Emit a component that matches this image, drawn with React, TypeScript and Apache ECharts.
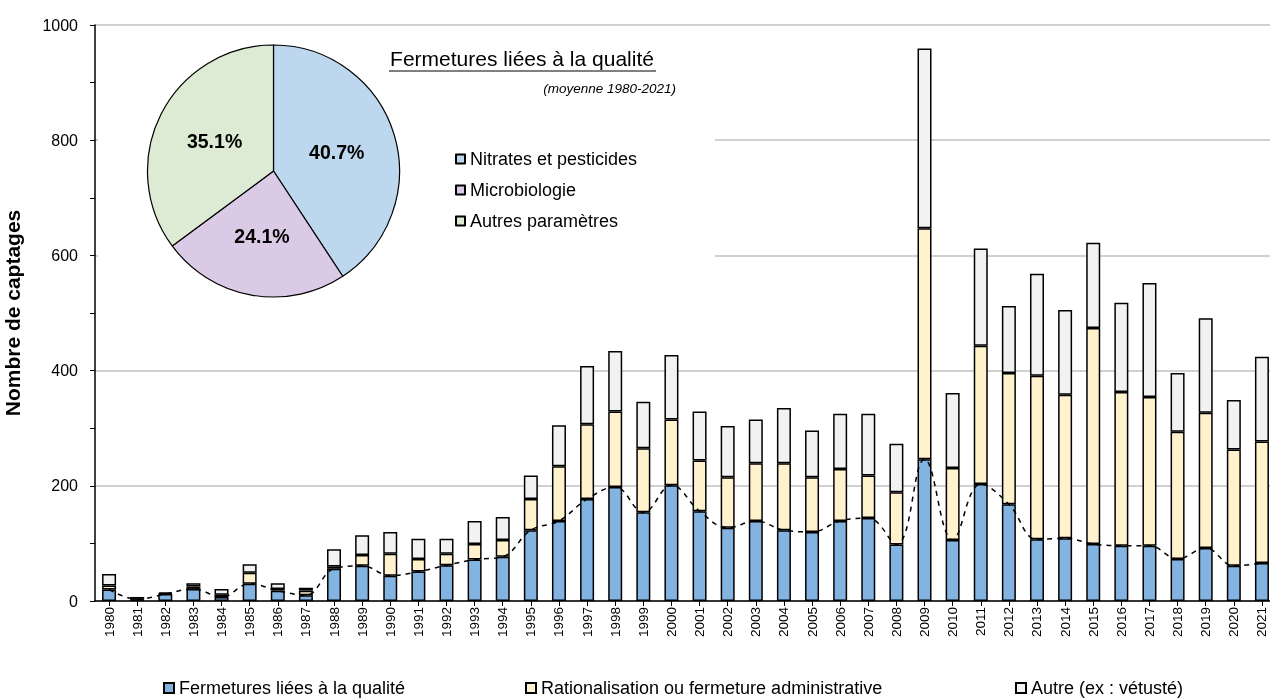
import React, { useEffect, useRef } from "react";
import * as echarts from "echarts";

const years = [
  "1980","1981","1982","1983","1984","1985","1986","1987","1988","1989",
  "1990","1991","1992","1993","1994","1995","1996","1997","1998","1999",
  "2000","2001","2002","2003","2004","2005","2006","2007","2008","2009",
  "2010","2011","2012","2013","2014","2015","2016","2017","2018","2019",
  "2020","2021",
];

const qualite = [
  20, 3, 12, 21, 7, 30, 18, 10, 56, 61,
  44, 51, 62, 72, 77, 123, 139, 177, 198, 154,
  201, 156, 127, 139, 123, 120, 139, 144, 98, 246,
  106, 203, 168, 107, 109, 99, 96, 96, 73, 92,
  61, 66,
];

const rationalisation = [
  7, 1, 1, 4, 4, 19, 3, 8, 4, 19,
  38, 22, 20, 27, 29, 54, 95, 130, 131, 111,
  114, 88, 88, 100, 116, 95, 90, 74, 91, 401,
  125, 240, 228, 284, 249, 375, 267, 258, 221, 235,
  202, 211,
];

const autre = [
  20, 3, 2, 6, 10, 15, 10, 5, 30, 34,
  38, 35, 26, 40, 40, 41, 71, 101, 105, 81,
  112, 85, 89, 76, 96, 81, 96, 107, 84, 312,
  130, 169, 116, 177, 147, 148, 155, 198, 102, 164,
  86, 147,
];

const seriesNames = [
  "Fermetures liées à la qualité",
  "Rationalisation ou fermeture administrative",
  "Autre (ex : vétusté)",
];

const pieNames = ["Nitrates et pesticides", "Microbiologie", "Autres paramètres"];
const pieValues = [40.7, 24.1, 35.1];

const FONT = "Liberation Sans, Arial, sans-serif";

export default function App() {
  const ref = useRef<HTMLDivElement>(null);

  useEffect(() => {
    if (!ref.current) return;
    const chart = echarts.init(ref.current, undefined, { renderer: "svg" });
    const barColors = ["#83B3E0", "#FFF2CC", "#F2F2F2"];
    const pieColors = ["#BDD7EE", "#DACAE6", "#DEEBD4"];
    const barData = [qualite, rationalisation, autre];

    const legendCommon = {
      top: 674,
      itemWidth: 10,
      itemHeight: 10,
      icon: "rect",
      textStyle: { fontFamily: FONT, fontSize: 18, color: "#000" },
    };

    const option: any = {
      animation: false,
      textStyle: { fontFamily: FONT },
      grid: {
        left: 95,
        right: -6,
        top: 25,
        bottom: 98,
        containLabel: false,
        outerBoundsMode: "none",
      },
      legend: [
        { ...legendCommon, left: 158, data: [seriesNames[0]] },
        { ...legendCommon, left: 520, data: [seriesNames[1]] },
        { ...legendCommon, left: 1010, data: [seriesNames[2]] },
        {
          left: 450,
          top: 145,
          orient: "vertical",
          itemWidth: 9,
          itemHeight: 9,
          itemGap: 13,
          icon: "rect",
          data: pieNames,
          textStyle: { fontFamily: FONT, fontSize: 18, color: "#000" },
        },
      ],
      xAxis: {
        type: "category",
        data: years,
        boundaryGap: true,
        axisLine: { show: true, lineStyle: { color: "#000", width: 1.5 } },
        axisTick: { show: true, alignWithLabel: true, length: 5, lineStyle: { color: "#000" } },
        axisLabel: {
          rotate: 90,
          interval: 0,
          margin: 6,
          fontSize: 13.5,
          color: "#000",
          fontFamily: FONT,
        },
        splitLine: { show: false },
      },
      yAxis: {
        type: "value",
        min: 0,
        max: 1000,
        interval: 200,
        name: "Nombre de captages",
        nameLocation: "middle",
        nameRotate: 90,
        nameGap: 72,
        nameTextStyle: { fontFamily: FONT, fontSize: 21, fontWeight: "bold", color: "#000" },
        axisLine: { show: true, lineStyle: { color: "#000", width: 1.5 } },
        axisTick: { show: true, length: 5, lineStyle: { color: "#000" } },
        minorTick: { show: true, splitNumber: 2, length: 5, lineStyle: { color: "#000" } },
        axisLabel: {
          fontSize: 16,
          color: "#000",
          margin: 17,
          fontFamily: FONT,
          formatter: (v: number) => String(v),
        },
        splitLine: { show: true, lineStyle: { color: "#C0C0C0", width: 1.5 } },
      },
      graphic: [
        {
          type: "rect",
          z: 1,
          shape: { x: 98, y: 30, width: 617, height: 272 },
          style: { fill: "#FFFFFF" },
          silent: true,
        },
        {
          type: "text",
          z: 5,
          x: 522,
          y: 58,
          style: {
            text: "Fermetures liées à la qualité",
            fontFamily: FONT,
            fontSize: 21,
            fill: "#000",
            align: "center",
            verticalAlign: "middle",
          },
        },
        {
          type: "line",
          z: 5,
          shape: { x1: 389, y1: 71, x2: 656, y2: 71 },
          style: { stroke: "#000", lineWidth: 1 },
        },
        {
          type: "text",
          z: 5,
          x: 676,
          y: 88,
          style: {
            text: "(moyenne 1980-2021)",
            fontFamily: FONT,
            fontSize: 13.5,
            fontStyle: "italic",
            fill: "#000",
            align: "right",
            verticalAlign: "middle",
          },
        },
      ],
      series: [
        ...barData.map((d, i) => ({
          name: seriesNames[i],
          type: "bar",
          stack: "total",
          data: d,
          barWidth: 14,
          z: 2,
          itemStyle: { color: barColors[i], borderColor: "#000", borderWidth: 1.5 },
        })),
        {
          name: "Tendance",
          type: "line",
          data: qualite,
          smooth: 0.4,
          showSymbol: false,
          symbol: "none",
          z: 4,
          lineStyle: { color: "#000", width: 1.5, type: [5, 5] },
        },
        {
          name: "Répartition",
          type: "pie",
          center: [273.5, 171],
          radius: 126,
          startAngle: 90,
          clockwise: true,
          z: 3,
          data: pieNames.map((n, i) => ({
            name: n,
            value: pieValues[i],
            itemStyle: { color: pieColors[i] },
          })),
          itemStyle: { borderColor: "#000", borderWidth: 1.2 },
          label: {
            show: true,
            position: "inside",
            formatter: (p: any) => p.value.toFixed(1) + "%",
            fontFamily: FONT,
            fontSize: 19.5,
            fontWeight: "bold",
            color: "#000",
          },
          labelLine: { show: false },
          emphasis: { disabled: true },
        },
      ],
    };

    chart.setOption(option);
    return () => chart.dispose();
  }, []);

  return (
    <div
      ref={ref}
      style={{ position: "fixed", left: 0, top: 0, width: 1270, height: 699 }}
    />
  );
}
